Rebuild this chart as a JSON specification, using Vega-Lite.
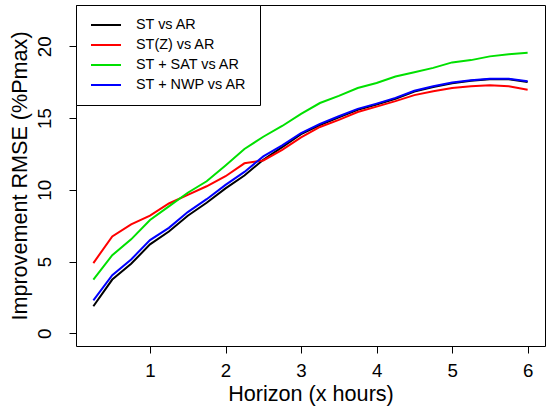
{
  "$schema": "https://vega.github.io/schema/vega-lite/v6.json",
  "width": 469,
  "height": 341,
  "autosize": {"type": "none"},
  "padding": {"left": 76, "top": 5, "right": 5, "bottom": 74},
  "background": "white",
  "config": {
    "font": "Liberation Sans",
    "view": {"stroke": "#000", "strokeWidth": 1},
    "axis": {
      "grid": false,
      "domain": false,
      "tickColor": "#000",
      "tickSize": 7,
      "labelColor": "#000",
      "titleColor": "#000",
      "labelFontSize": 18.7,
      "titleFontSize": 21.6,
      "titleFontWeight": "normal",
      "labelFlush": false,
      "labelOverlap": false
    }
  },
  "data": {
    "values": [
      {"h": 0.25, "series": "ST vs AR", "v": 1.89},
      {"h": 0.5, "series": "ST vs AR", "v": 3.75},
      {"h": 0.75, "series": "ST vs AR", "v": 4.85},
      {"h": 1, "series": "ST vs AR", "v": 6.2},
      {"h": 1.25, "series": "ST vs AR", "v": 7.1},
      {"h": 1.5, "series": "ST vs AR", "v": 8.2},
      {"h": 1.75, "series": "ST vs AR", "v": 9.1},
      {"h": 2, "series": "ST vs AR", "v": 10.1},
      {"h": 2.25, "series": "ST vs AR", "v": 11.0},
      {"h": 2.5, "series": "ST vs AR", "v": 12.1},
      {"h": 2.75, "series": "ST vs AR", "v": 12.98},
      {"h": 3, "series": "ST vs AR", "v": 13.88},
      {"h": 3.25, "series": "ST vs AR", "v": 14.52},
      {"h": 3.5, "series": "ST vs AR", "v": 15.06},
      {"h": 3.75, "series": "ST vs AR", "v": 15.58},
      {"h": 4, "series": "ST vs AR", "v": 15.95},
      {"h": 4.25, "series": "ST vs AR", "v": 16.35},
      {"h": 4.5, "series": "ST vs AR", "v": 16.85},
      {"h": 4.75, "series": "ST vs AR", "v": 17.17},
      {"h": 5, "series": "ST vs AR", "v": 17.43},
      {"h": 5.25, "series": "ST vs AR", "v": 17.6},
      {"h": 5.5, "series": "ST vs AR", "v": 17.7},
      {"h": 5.75, "series": "ST vs AR", "v": 17.7},
      {"h": 6, "series": "ST vs AR", "v": 17.52},

      {"h": 0.25, "series": "ST(Z) vs AR", "v": 4.9},
      {"h": 0.5, "series": "ST(Z) vs AR", "v": 6.75},
      {"h": 0.75, "series": "ST(Z) vs AR", "v": 7.6},
      {"h": 1, "series": "ST(Z) vs AR", "v": 8.2},
      {"h": 1.25, "series": "ST(Z) vs AR", "v": 9.05},
      {"h": 1.5, "series": "ST(Z) vs AR", "v": 9.65},
      {"h": 1.75, "series": "ST(Z) vs AR", "v": 10.25},
      {"h": 2, "series": "ST(Z) vs AR", "v": 10.95},
      {"h": 2.25, "series": "ST(Z) vs AR", "v": 11.85},
      {"h": 2.5, "series": "ST(Z) vs AR", "v": 12.05},
      {"h": 2.75, "series": "ST(Z) vs AR", "v": 12.78},
      {"h": 3, "series": "ST(Z) vs AR", "v": 13.65},
      {"h": 3.25, "series": "ST(Z) vs AR", "v": 14.38},
      {"h": 3.5, "series": "ST(Z) vs AR", "v": 14.88},
      {"h": 3.75, "series": "ST(Z) vs AR", "v": 15.42},
      {"h": 4, "series": "ST(Z) vs AR", "v": 15.8},
      {"h": 4.25, "series": "ST(Z) vs AR", "v": 16.18},
      {"h": 4.5, "series": "ST(Z) vs AR", "v": 16.6},
      {"h": 4.75, "series": "ST(Z) vs AR", "v": 16.87},
      {"h": 5, "series": "ST(Z) vs AR", "v": 17.1},
      {"h": 5.25, "series": "ST(Z) vs AR", "v": 17.22},
      {"h": 5.5, "series": "ST(Z) vs AR", "v": 17.28},
      {"h": 5.75, "series": "ST(Z) vs AR", "v": 17.22},
      {"h": 6, "series": "ST(Z) vs AR", "v": 16.98},

      {"h": 0.25, "series": "ST + SAT vs AR", "v": 3.75},
      {"h": 0.5, "series": "ST + SAT vs AR", "v": 5.45},
      {"h": 0.75, "series": "ST + SAT vs AR", "v": 6.55},
      {"h": 1, "series": "ST + SAT vs AR", "v": 7.9},
      {"h": 1.25, "series": "ST + SAT vs AR", "v": 8.85},
      {"h": 1.5, "series": "ST + SAT vs AR", "v": 9.8},
      {"h": 1.75, "series": "ST + SAT vs AR", "v": 10.6},
      {"h": 2, "series": "ST + SAT vs AR", "v": 11.7},
      {"h": 2.25, "series": "ST + SAT vs AR", "v": 12.85},
      {"h": 2.5, "series": "ST + SAT vs AR", "v": 13.7},
      {"h": 2.75, "series": "ST + SAT vs AR", "v": 14.45},
      {"h": 3, "series": "ST + SAT vs AR", "v": 15.3},
      {"h": 3.25, "series": "ST + SAT vs AR", "v": 16.05},
      {"h": 3.5, "series": "ST + SAT vs AR", "v": 16.55},
      {"h": 3.75, "series": "ST + SAT vs AR", "v": 17.1},
      {"h": 4, "series": "ST + SAT vs AR", "v": 17.45},
      {"h": 4.25, "series": "ST + SAT vs AR", "v": 17.9},
      {"h": 4.5, "series": "ST + SAT vs AR", "v": 18.2},
      {"h": 4.75, "series": "ST + SAT vs AR", "v": 18.5},
      {"h": 5, "series": "ST + SAT vs AR", "v": 18.88},
      {"h": 5.25, "series": "ST + SAT vs AR", "v": 19.04},
      {"h": 5.5, "series": "ST + SAT vs AR", "v": 19.3},
      {"h": 5.75, "series": "ST + SAT vs AR", "v": 19.44},
      {"h": 6, "series": "ST + SAT vs AR", "v": 19.55},

      {"h": 0.25, "series": "ST + NWP vs AR", "v": 2.3},
      {"h": 0.5, "series": "ST + NWP vs AR", "v": 4.05},
      {"h": 0.75, "series": "ST + NWP vs AR", "v": 5.15},
      {"h": 1, "series": "ST + NWP vs AR", "v": 6.5},
      {"h": 1.25, "series": "ST + NWP vs AR", "v": 7.35},
      {"h": 1.5, "series": "ST + NWP vs AR", "v": 8.45},
      {"h": 1.75, "series": "ST + NWP vs AR", "v": 9.35},
      {"h": 2, "series": "ST + NWP vs AR", "v": 10.35},
      {"h": 2.25, "series": "ST + NWP vs AR", "v": 11.25},
      {"h": 2.5, "series": "ST + NWP vs AR", "v": 12.33},
      {"h": 2.75, "series": "ST + NWP vs AR", "v": 13.1},
      {"h": 3, "series": "ST + NWP vs AR", "v": 13.96},
      {"h": 3.25, "series": "ST + NWP vs AR", "v": 14.6},
      {"h": 3.5, "series": "ST + NWP vs AR", "v": 15.13},
      {"h": 3.75, "series": "ST + NWP vs AR", "v": 15.64},
      {"h": 4, "series": "ST + NWP vs AR", "v": 16.01},
      {"h": 4.25, "series": "ST + NWP vs AR", "v": 16.41},
      {"h": 4.5, "series": "ST + NWP vs AR", "v": 16.9},
      {"h": 4.75, "series": "ST + NWP vs AR", "v": 17.22},
      {"h": 5, "series": "ST + NWP vs AR", "v": 17.48},
      {"h": 5.25, "series": "ST + NWP vs AR", "v": 17.64},
      {"h": 5.5, "series": "ST + NWP vs AR", "v": 17.74},
      {"h": 5.75, "series": "ST + NWP vs AR", "v": 17.74},
      {"h": 6, "series": "ST + NWP vs AR", "v": 17.57}
    ]
  },
  "mark": {"type": "line", "strokeWidth": 2},
  "encoding": {
    "x": {
      "field": "h",
      "type": "quantitative",
      "scale": {"domain": [0.02, 6.23], "nice": false, "zero": false},
      "axis": {
        "values": [1, 2, 3, 4, 5, 6],
        "labelBaseline": "alphabetic",
        "labelPadding": 23.7,
        "title": "Horizon (x hours)",
        "titleBaseline": "alphabetic",
        "titleAlign": "center",
        "titleX": 234.5,
        "titleY": 54
      }
    },
    "y": {
      "field": "v",
      "type": "quantitative",
      "scale": {"domain": [-0.88, 22.88], "nice": false, "zero": false},
      "axis": {
        "values": [0, 5, 10, 15, 20],
        "labelAngle": -90,
        "labelAlign": "center",
        "labelBaseline": "alphabetic",
        "labelPadding": 18.5,
        "title": "Improvement RMSE (%Pmax)",
        "titleAngle": -90,
        "titleAlign": "center",
        "titleBaseline": "alphabetic",
        "titleX": -49.3,
        "titleY": 170.5
      }
    },
    "color": {
      "field": "series",
      "type": "nominal",
      "sort": ["ST vs AR", "ST(Z) vs AR", "ST + SAT vs AR", "ST + NWP vs AR"],
      "scale": {
        "domain": ["ST vs AR", "ST(Z) vs AR", "ST + SAT vs AR", "ST + NWP vs AR"],
        "range": ["#000000", "#ff0000", "#00e000", "#0000ff"]
      },
      "legend": {
        "title": null,
        "orient": "none",
        "legendX": 0,
        "legendY": 0,
        "padding": 13,
        "clipHeight": 14,
        "rowPadding": 5,
        "strokeColor": "#000",
        "fillColor": "white",
        "symbolType": "stroke",
        "symbolSize": 900,
        "symbolStrokeWidth": 2,
        "symbolOffset": 1,
        "labelOffset": 14,
        "labelFontSize": 14.4,
        "labelColor": "#000",
        "labelFont": "Liberation Sans"
      }
    }
  }
}
